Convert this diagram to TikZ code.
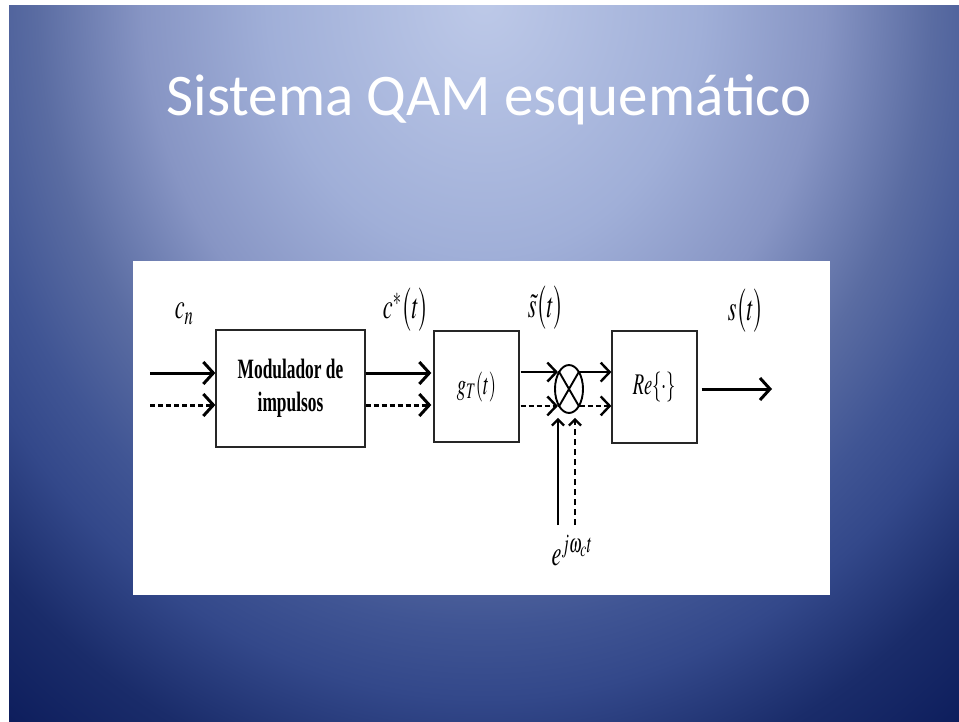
\documentclass[tikz,border=0pt]{standalone}
\usepackage{graphicx}
\usepackage{mathptmx}
\usepackage{fontspec}
\setmainfont{Liberation Serif}
\newfontfamily\titlefont{Carlito}
\usetikzlibrary{arrows.meta,shapes.geometric}

\definecolor{bgA}{HTML}{BDC9E8}
\definecolor{bgB}{HTML}{A0AFD8}
\definecolor{bgC}{HTML}{8795C4}
\definecolor{bgD}{HTML}{5A6CA2}
\definecolor{bgE}{HTML}{405594}
\definecolor{bgF}{HTML}{33488A}
\definecolor{bgG}{HTML}{1A2C6A}
\definecolor{bgH}{HTML}{0D1D5C}
\pgfdeclareradialshading{slidebg}{\pgfpointorigin}{%
  color(0bp)=(bgA); color(216bp)=(bgB); color(340bp)=(bgC);
  color(446bp)=(bgD); color(528bp)=(bgE); color(590bp)=(bgF);
  color(682bp)=(bgG); color(776bp)=(bgH); color(868bp)=(bgH)}

\newcommand{\narrow}[1]{\scalebox{0.62}[1]{#1}}

\begin{document}
\begin{tikzpicture}[
    x = 1pt, y = -1pt, % pixel grid of the slide
    > = {Straight Barb[length=10pt,width=22pt]}, % arrow head style
    blk/.style = {draw = black!85, line width = 1.3pt, fill = white, inner sep = 0pt},
    sig/.style = {->, line width = 3pt},
    dsig/.style = {sig, dash pattern = on 5pt off 3pt},
    thinsig/.style = {->, line width = 2.4pt, >={Straight Barb[length=9pt,width=19pt]}},
    dthinsig/.style = {thinsig, dash pattern = on 5pt off 3pt},
    vsig/.style = {->, line width = 2.2pt, >={Straight Barb[length=6pt,width=12pt]}},
    dvsig/.style = {vsig, dash pattern = on 6pt off 4pt},
    lbl/.style = {font = \fontsize{36}{40}\selectfont, inner sep = 0pt}
]
\useasboundingbox (0,0) rectangle (959,722);
\fill[white] (0,0) rectangle (959,722);
\begin{scope}
  \clip (9,6) rectangle (959,722);
  \node[inner sep = 0pt] (glow) at (484,0) {\scalebox{1}[1.18]{\pgfuseshading{slidebg}}};
\end{scope}

\node[text = white, font = \titlefont\fontsize{59}{70}\selectfont] (title) at (489,100) {Sistema QAM esquemático};

\fill[white] (133,261) rectangle (830,595);

% blocks
\node[blk, minimum width = 149pt, minimum height = 117pt] (mod) at (290.5,388.5)
    {\narrow{\fontsize{28}{33}\selectfont\bfseries\begin{tabular}{@{}c@{}}Modulador de\\impulsos\end{tabular}}};
\node[blk, minimum width = 85pt, minimum height = 111pt] (gT) at (476.5,386.5)
    {\narrow{\fontsize{30}{34}\selectfont$g_{T}(t)$}};
\node[blk, draw = black, line width = 1.9pt, ellipse, minimum width = 28pt, minimum height = 48pt] (mult) at (569,389) {};
\draw[line width = 1.9pt] (mult.120) -- (mult.-60) (mult.60) -- (mult.-120);
\node[blk, minimum width = 85pt, minimum height = 112pt] (re) at (654.5,387)
    {\narrow{\fontsize{30}{34}\selectfont$Re\{\cdot\}$}};

% free ends
\coordinate (in1) at (150,373);
\coordinate (in2) at (150,405);
\coordinate (lo1) at (558,525);
\coordinate (lo2) at (575,525);
\coordinate (out) at (772,389);

% connectors
\draw[sig] (in1) -- (mod.west |- in1);
\draw[dsig] (in2) -- (mod.west |- in2);
\draw[sig, shorten > = 2pt] (mod.east |- in1) -- (gT.west |- in1);
\draw[dsig, shorten > = 2pt] (mod.east |- in2) -- (gT.west |- in2);
\draw[thinsig, shorten < = 1pt] (gT.east |- mult.123) -- (mult.123);
\draw[dthinsig, shorten < = 1pt] (gT.east |- mult.237) -- (mult.237);
\draw[thinsig] (mult.57) -- (re.west |- mult.57);
\draw[dthinsig] (mult.-57) -- (re.west |- mult.-57);
\draw[vsig, shorten > = 4pt] (lo1) -- (lo1 |- mult.south);
\draw[dvsig, shorten > = 4pt] (lo2) -- (lo2 |- mult.south);
\draw[sig, shorten < = 4pt] (re.east |- out) -- (out);

% labels
\node[lbl] (cn) at (184,314) {\narrow{$c_{n}$}};
\node[lbl] (cstar) at (406,310) {\narrow{$c^{*}\bigl(t\bigr)$}};
\node[lbl] (stilde) at (546,308) {\narrow{$\tilde{s}\bigl(t\bigr)$}};
\node[lbl] (st) at (746,311) {\narrow{$s\bigl(t\bigr)$}};
\node[lbl] (carrier) at (572,551) {\narrow{$e^{j\omega_{c}t}$}};
\end{tikzpicture}
\end{document}
